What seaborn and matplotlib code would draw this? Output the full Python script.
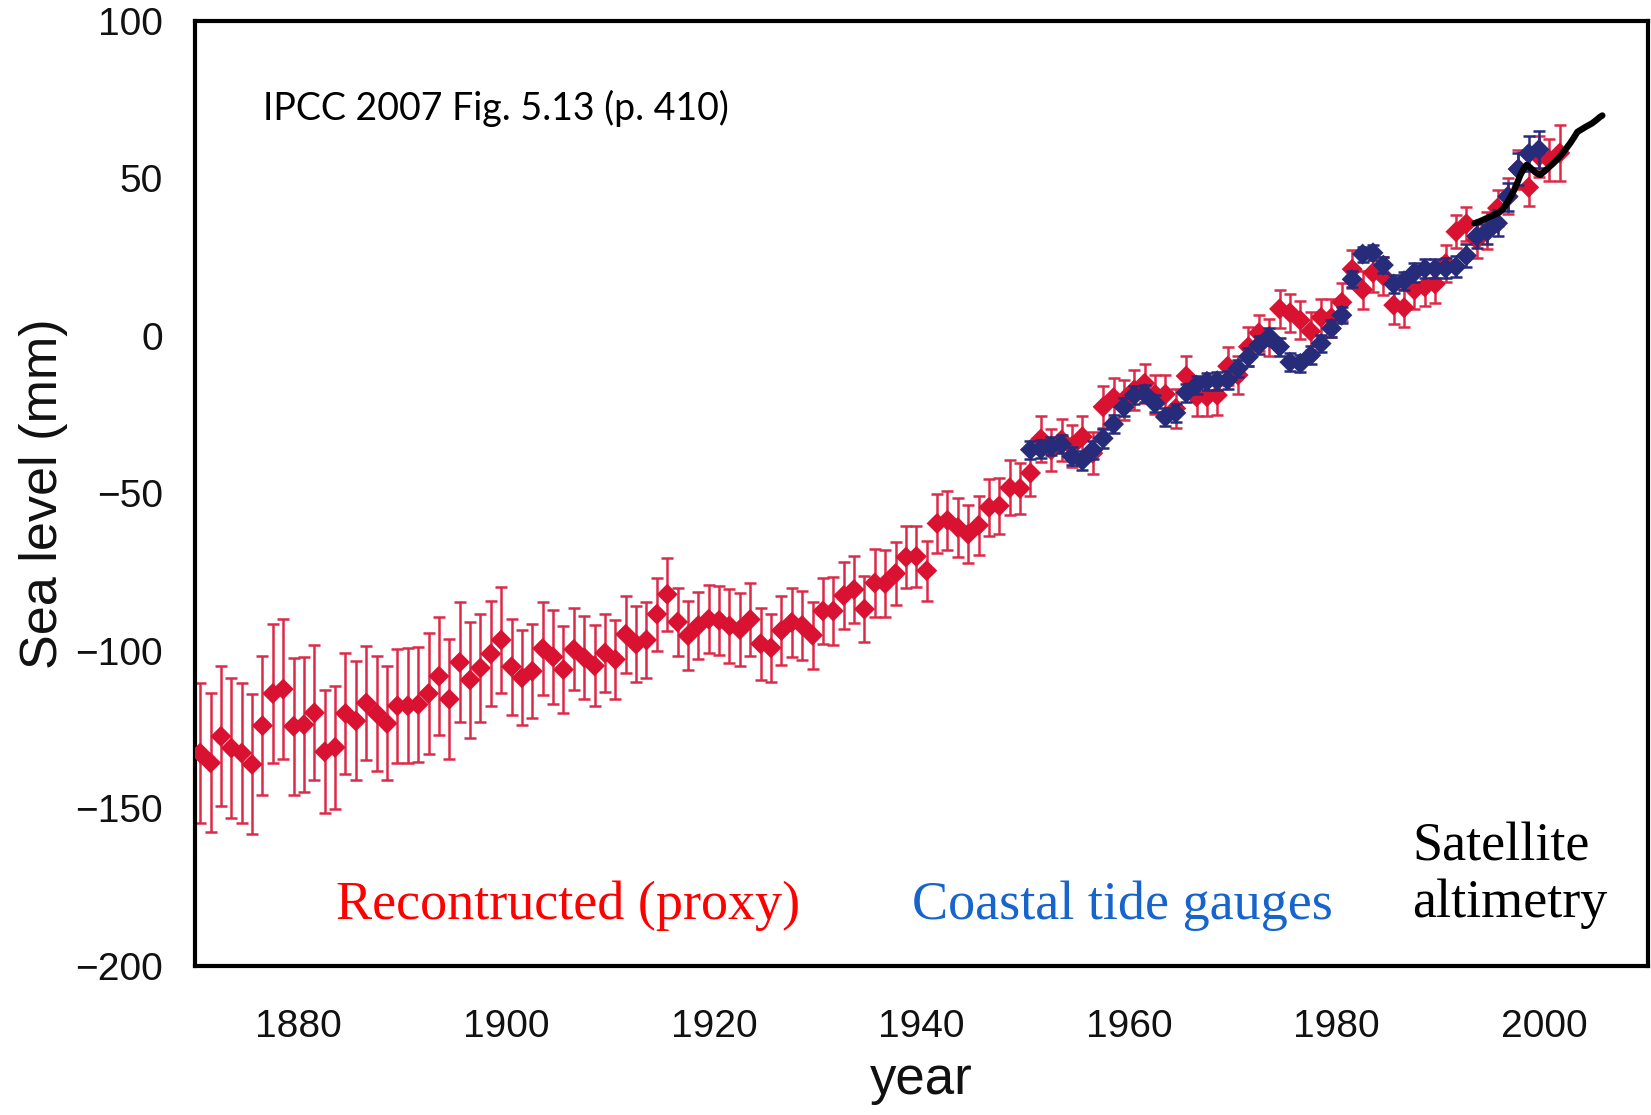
import numpy as np
import pandas as pd
import matplotlib
matplotlib.use("Agg")
import matplotlib.pyplot as plt
import seaborn as sns

# Reconstructed (proxy) annual sea level, mm, 1870-2001
proxy_years = list(range(1870, 2002))
proxy_level = [
    -132.4, -135.5, -127.1, -130.8, -132.4, -136.0, -123.7, -113.5, -112.1, -123.9,
    -123.4, -119.6, -132.0, -130.6, -119.8, -122.2, -116.5, -119.8, -123.0, -117.4,
    -117.4, -117.0, -113.5, -108.0, -115.3, -103.6, -109.2, -105.4, -100.9, -96.5,
    -105.0, -108.5, -106.4, -99.2, -101.9, -105.9, -99.5, -102.1, -104.7, -100.6,
    -102.7, -94.7, -97.8, -96.5, -88.3, -82.0, -90.8, -95.1, -91.9, -89.9,
    -90.3, -92.0, -93.2, -90.0, -97.7, -99.0, -93.5, -90.9, -91.9, -95.0,
    -87.3, -87.3, -82.4, -80.5, -86.7, -78.4, -78.6, -75.4, -70.2, -70.0,
    -74.5, -59.5, -58.5, -60.8, -62.9, -60.1, -54.4, -53.9, -48.2, -48.4,
    -43.5, -32.7, -36.2, -33.0, -35.0, -32.0, -37.2, -22.5, -19.6, -20.3,
    -17.1, -15.0, -18.5, -18.5, -23.0, -12.7, -19.3, -19.3, -18.8, -9.6,
    -12.4, -3.4, 1.0, -0.5, 8.6, 7.4, 5.0, 1.5, 5.9, 5.8,
    10.7, 21.2, 14.7, 20.1, 19.0, 9.8, 9.0, 14.6, 15.6, 16.5,
    23.0, 33.1, 35.6, 30.5, 33.5, 40.6, 44.4, 53.0, 47.2, 57.0,
    55.9, 58.1,
]
proxy_err = [
    22.2, 22.1, 22.2, 22.1, 22.2, 22.2, 22.0, 22.1, 22.2, 21.7,
    21.5, 21.4, 19.5, 19.6, 19.1, 18.9, 18.2, 18.2, 18.1, 18.1,
    18.2, 18.3, 19.1, 18.7, 19.0, 19.0, 18.3, 17.2, 16.7, 16.9,
    15.2, 15.1, 14.9, 14.9, 14.9, 13.9, 13.0, 13.1, 12.8, 12.4,
    12.4, 12.2, 12.0, 12.0, 11.6, 11.5, 10.8, 10.9, 10.7, 10.7,
    10.9, 11.7, 11.5, 11.6, 11.5, 10.9, 11.0, 10.9, 10.9, 10.6,
    10.5, 10.7, 10.7, 10.5, 10.6, 10.7, 10.6, 10.0, 9.8, 9.6,
    9.5, 9.4, 9.4, 9.3, 9.3, 9.3, 9.0, 8.9, 8.7, 8.0,
    7.4, 7.2, 6.8, 6.6, 6.6, 6.6, 6.6, 6.7, 6.3, 6.3,
    6.3, 6.2, 6.2, 6.2, 6.2, 6.2, 6.2, 6.2, 6.2, 6.1,
    6.1, 6.1, 5.8, 5.9, 6.1, 6.0, 6.0, 6.0, 6.0, 6.0,
    6.0, 6.0, 6.0, 6.0, 6.0, 6.0, 6.0, 6.0, 6.0, 6.0,
    6.0, 5.3, 5.5, 5.6, 5.8, 5.8, 5.8, 6.2, 6.0, 6.5,
    6.6, 9.0,
]

# Coastal tide gauge annual sea level, mm, 1950-1999
gauge_years = list(range(1950, 2000))
gauge_level = [
    -36.1, -35.9, -35.0, -34.4, -38.2, -39.5, -36.2, -32.5, -28.0, -22.6,
    -18.8, -18.3, -21.4, -25.7, -24.4, -18.0, -15.6, -14.4, -14.2, -14.0,
    -10.3, -6.6, -2.9, -0.2, -3.4, -8.3, -8.7, -6.1, -2.4, 2.4,
    6.6, 18.0, 26.0, 26.4, 22.5, 16.5, 17.5, 20.2, 21.4, 21.4,
    21.5, 22.0, 25.5, 31.7, 33.1, 35.8, 44.2, 53.0, 57.9, 59.2,
]
gauge_err = [
    2.9, 2.9, 2.9, 2.9, 2.9, 2.9, 2.9, 2.9, 2.9, 2.9,
    2.8, 2.8, 2.8, 2.8, 2.8, 2.8, 2.8, 2.8, 2.8, 2.8,
    2.8, 2.8, 2.8, 2.8, 2.8, 2.8, 2.8, 2.8, 2.8, 2.8,
    2.6, 2.6, 2.4, 2.4, 2.6, 2.8, 2.8, 3.0, 3.0, 3.0,
    3.2, 3.4, 3.6, 3.8, 4.0, 4.2, 4.5, 5.0, 5.5, 6.0,
]

# Satellite altimetry, mm
sat_time = [1993.3, 1993.8, 1994.4, 1995.0, 1995.5, 1996.0, 1996.3, 1996.7, 1997.1,
            1997.4, 1997.7, 1998.0, 1998.3, 1998.6, 1998.9, 1999.2, 1999.6, 2000.0,
            2000.5, 2001.0, 2001.5, 2002.0, 2002.5, 2002.9, 2003.2, 2003.6, 2004.0,
            2004.6, 2005.0, 2005.4, 2005.6]
sat_level = [35.8, 36.4, 37.3, 38.2, 38.9, 40.2, 41.6, 43.8, 46.3,
             48.6, 51.1, 53.0, 54.3, 53.6, 52.7, 51.8, 51.1, 52.2,
             53.7, 55.2, 56.9, 59.0, 61.2, 63.2, 64.8, 65.6, 66.4,
             67.5, 68.5, 69.6, 70.0]

x_ticks = [1880, 1900, 1920, 1940, 1960, 1980, 2000]
y_ticks = [-200, -150, -100, -50, 0, 50, 100]

RED = "#da1232"
RED_BAR = "#dc2a48"
NAVY = "#262b7a"

proxy = pd.DataFrame({"year": np.array(proxy_years) + 0.5, "level": proxy_level, "err": proxy_err})
gauge = pd.DataFrame({"year": np.array(gauge_years) + 0.5, "level": gauge_level, "err": gauge_err})
sat = pd.DataFrame({"year": sat_time, "level": sat_level})

sns.set_style("white")
plt.rcParams["font.family"] = ["Liberation Sans", "DejaVu Sans"]

fig = plt.figure(figsize=(16.51, 11.15), dpi=100)
ax = fig.add_axes([195 / 1651, 1 - 966 / 1115, 1453 / 1651, (966 - 21) / 1115])

ax.errorbar(proxy["year"], proxy["level"], yerr=proxy["err"], fmt="none",
            ecolor=RED_BAR, elinewidth=1.8, capsize=4.3, capthick=1.8, zorder=2)
sns.scatterplot(data=proxy, x="year", y="level", marker="D", s=115, color=RED,
                edgecolor="none", ax=ax, zorder=3, legend=False)
ax.errorbar(gauge["year"], gauge["level"], yerr=gauge["err"], fmt="none",
            ecolor=NAVY, elinewidth=1.8, capsize=4.3, capthick=1.8, zorder=4)
sns.scatterplot(data=gauge, x="year", y="level", marker="D", s=115, color=NAVY,
                edgecolor="none", ax=ax, zorder=5, legend=False)
sns.lineplot(data=sat, x="year", y="level", color="black", linewidth=4.6,
             ax=ax, zorder=6, legend=False)

ax.set_xlim(1870, 2010)
ax.set_ylim(-200, 100)
ax.set_xticks(x_ticks)
ax.set_yticks(y_ticks)
ax.tick_params(axis="both", direction="out", length=18, width=1.3, color="#333333",
               labelsize=28, labelcolor="#111111", pad=5)
ax.tick_params(axis="x", pad=13)
for side in ["left", "right", "top", "bottom"]:
    ax.spines[side].set_visible(True)
    ax.spines[side].set_linewidth(3.0)
    ax.spines[side].set_color("black")

ax.set_xlabel("year", fontsize=38, labelpad=7, color="#111111")
ax.set_ylabel("Sea level (mm)", fontsize=37.5, labelpad=5, color="#111111")

ax.text(263 / 1651, 1 - 108 / 1115, "IPCC 2007 Fig. 5.13 (p. 410)", transform=fig.transFigure,
        fontsize=27, family=["Lato", "DejaVu Sans"], va="center", ha="left", color="black")
ax.text(0.257, 0.064, "Recontructed (proxy)", transform=ax.transAxes,
        fontsize=39, family=["Liberation Serif", "DejaVu Serif"], color="#ff0000",
        ha="center", va="center")
ax.text(0.638, 0.064, "Coastal tide gauges", transform=ax.transAxes,
        fontsize=39, family=["Liberation Serif", "DejaVu Serif"], color="#1664cc",
        ha="center", va="center")
ax.text(0.838, 0.096, "Satellite\naltimetry", transform=ax.transAxes,
        fontsize=39, family=["Liberation Serif", "DejaVu Serif"], color="black",
        ha="left", va="center", linespacing=1.15)

fig.savefig("out.png", dpi=100)
